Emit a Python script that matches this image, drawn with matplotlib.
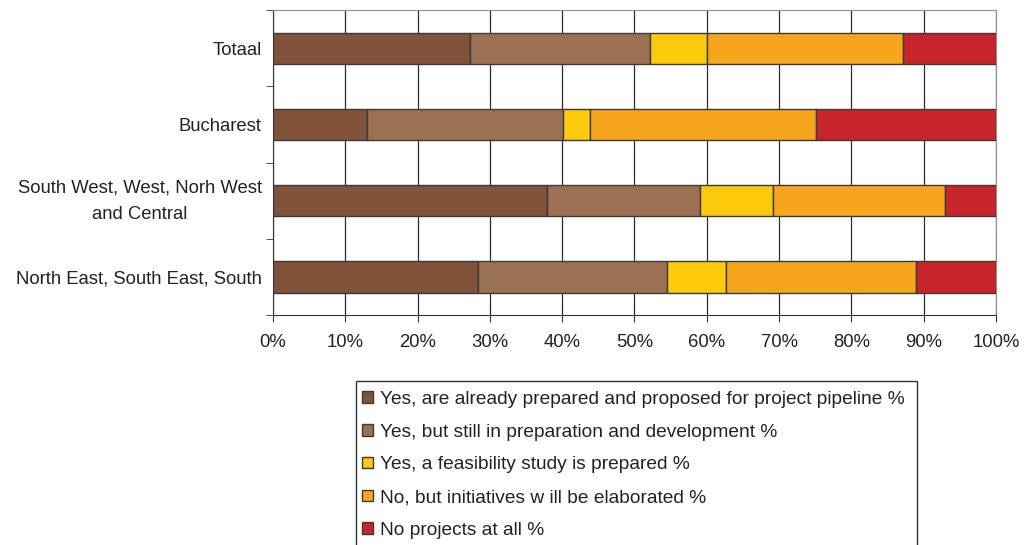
import matplotlib.pyplot as plt
from matplotlib.patches import Patch, Rectangle
from matplotlib.ticker import FixedLocator, PercentFormatter
from matplotlib.transforms import ScaledTranslation

plt.rcParams['font.family'] = ['Liberation Sans', 'DejaVu Sans']

regions = ['Totaal', 'Bucharest', 'South West, West, Norh West\nand Central',
           'North East, South East, South']

series_names = [
    'Yes, are already prepared and proposed for project pipeline %',
    'Yes, but still in preparation and development %',
    'Yes, a feasibility study is prepared %',
    'No, but initiatives w ill be elaborated %',
    'No projects at all %',
]
prepared = [27.2, 13.0, 37.9, 28.4]
in_development = [24.9, 27.1, 21.2, 26.1]
feasibility = [7.9, 3.8, 10.0, 8.2]
initiatives = [27.1, 31.2, 23.9, 26.2]
no_projects = [12.9, 24.9, 7.0, 11.1]

colors = ['#82523a', '#9c7052', '#fcca0a', '#f7a51d', '#c8242b']

fig = plt.figure(figsize=(10.27, 5.45), dpi=100)
ax = fig.add_axes([0.2658, 0.422, 0.704, 0.5596])

ypos = list(range(len(regions)))
left = [0.0] * len(regions)
for vals, c in zip([prepared, in_development, feasibility, initiatives, no_projects], colors):
    ax.barh(ypos, vals, left=left, height=0.41, color=c, edgecolor='#3a3a3a',
            linewidth=1.0, zorder=3)
    left = [a + b for a, b in zip(left, vals)]

ax.set_xlim(0, 100)
ax.set_ylim(3.5, -0.5)
ax.set_xticks(range(0, 101, 10))
ax.xaxis.set_major_formatter(PercentFormatter(decimals=0))
ax.grid(axis='x', color='#2e2e2e', linewidth=0.9, zorder=0)

ax.set_yticks(ypos)
ax.set_yticklabels(regions, fontsize=13.3, multialignment='center',
                   linespacing=1.7, color='#222222')
ax.yaxis.set_minor_locator(FixedLocator([-0.5, 0.5, 1.5, 2.5, 3.5]))
ax.tick_params(axis='y', which='minor', length=5, color='#333333')
ax.tick_params(axis='y', which='major', length=0, pad=8)
ax.tick_params(axis='x', length=5, color='#333333', labelsize=13.3, pad=9,
               labelcolor='#222222')

# two-line label sits a little above its bar centre
two_line = ax.get_yticklabels()[2]
two_line.set_transform(two_line.get_transform()
                       + ScaledTranslation(0, 6 / 100, fig.dpi_scale_trans))

ax.spines['left'].set_color('#333333')
ax.spines['bottom'].set_color('#333333')
ax.spines['top'].set_color('#9a8c88')
ax.spines['right'].set_color('#9a8c88')

# legend box runs off the bottom edge of the figure
fig.add_artist(Rectangle((356 / 1027, -0.05), (917 - 356) / 1027, 0.05 + 1 - 381 / 545,
                         transform=fig.transFigure, facecolor='white',
                         edgecolor='#333333', linewidth=1.0))

handles = [Patch(facecolor=c, edgecolor='#3a3a3a', linewidth=1.0) for c in colors]
leg = fig.legend(handles, series_names, loc='upper left',
                 bbox_to_anchor=(362 / 1027, 1 - 391 / 545),
                 fontsize=13.8, frameon=False,
                 handlelength=0.55, handleheight=0.55, handletextpad=0.4,
                 labelspacing=0.82, borderpad=0.0, borderaxespad=0)
for t in leg.get_texts():
    t.set_color('#222222')

fig.savefig('out.png', dpi=100)
